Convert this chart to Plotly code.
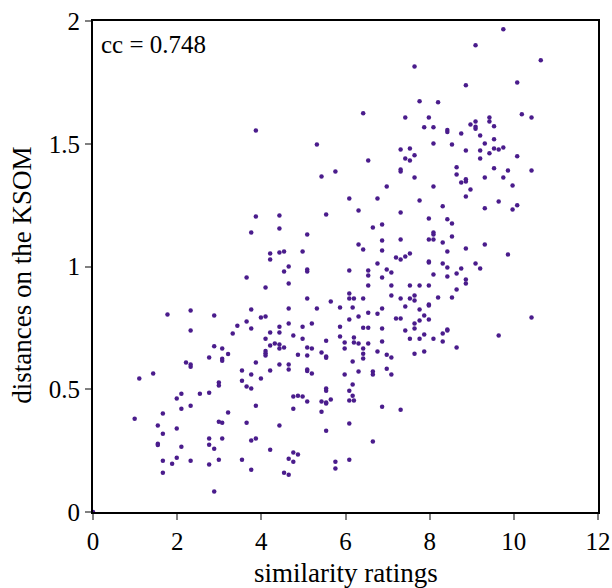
import plotly.graph_objects as go

# similarity ratings vs distances on the KSOM
ratings = [
    3.87, 5.32, 5.76, 5.43,
    9.09, 7.64, 8.86, 7.76, 8.20, 6.42, 7.42, 7.98, 9.09, 8.97, 9.09, 9.09, 7.87, 8.09, 8.42, 8.42,
    8.75, 9.20, 8.09, 8.53, 7.31, 7.53, 8.86, 9.20, 7.64, 6.54, 7.42, 7.53, 9.20, 8.64, 7.31, 7.31,
    8.64, 7.64, 8.86, 8.86, 8.75,
    9.75, 10.64, 10.08, 10.19, 10.42, 9.42, 9.42, 9.53, 9.53, 9.31, 9.53, 9.64, 9.75, 9.42, 10.08,
    9.53, 9.86, 10.42, 9.31, 9.75, 9.97,
    9.64, 9.31, 10.08, 9.97, 9.31, 9.86, 10.42, 9.64,
    6.09, 3.87, 4.43, 5.54, 4.43, 3.76, 5.09, 4.21, 4.43, 4.54, 4.98, 4.21, 4.65, 5.09, 5.09, 4.54,
    6.09, 3.65, 4.65, 4.10, 6.09, 6.09, 5.09, 5.65, 3.76, 4.65, 5.32, 5.87, 6.17, 3.99, 4.10, 3.43,
    3.65, 3.76, 4.43, 4.65, 4.98, 5.20, 5.87, 6.09, 3.32, 4.21, 4.43, 4.76, 4.10, 4.98, 5.54, 5.87,
    5.98, 4.32, 4.21, 4.43, 4.54, 4.43, 5.09, 5.20, 5.98,
    1.77, 2.32, 2.88, 2.32, 2.88, 3.07,
    2.76, 3.07, 3.07, 2.21, 2.32, 2.32, 1.43, 1.10, 2.99, 2.99, 2.10, 2.54, 2.76, 1.99, 2.10, 2.32,
    1.66, 0.99, 1.54, 1.99, 2.99, 3.07, 1.66, 1.54, 1.54, 2.76, 2.10, 2.76, 2.88, 3.07, 1.66, 1.88,
    1.99, 2.32, 2.76, 2.99, 1.66, 2.88, 0.0,
    3.21, 4.10, 4.10, 4.10, 4.87, 5.09, 5.43, 5.54, 5.54, 3.87, 6.17, 3.54, 3.76, 4.21, 4.43, 4.65,
    4.65, 5.09, 5.09, 5.20, 5.98, 3.99, 3.54, 3.65, 3.76, 6.17, 5.54, 5.54, 6.09, 6.17, 4.76, 4.87,
    4.98, 5.09, 5.43, 5.54, 5.54, 5.65, 6.09, 6.20, 3.21, 3.87, 4.76, 5.43, 3.65, 4.43, 6.09, 5.54,
    3.76, 3.87, 4.21, 4.76, 4.87, 4.65, 4.76, 3.54, 5.76, 6.09, 3.76, 5.76, 4.54, 4.65,
    6.42, 6.42, 6.76, 6.98, 7.09, 7.64, 7.87, 6.31, 6.65, 6.65, 6.98, 7.09, 6.87, 7.31, 6.65,
    6.98, 8.09, 8.97, 6.76, 8.86, 7.76, 8.31, 6.31, 7.31, 7.98, 8.42, 8.53, 6.65, 6.87, 8.09, 8.09,
    7.31, 7.98, 8.09, 8.53, 6.87, 6.31, 8.31, 6.42, 6.87, 8.42, 8.86, 7.53, 7.42, 7.20, 7.31, 6.76,
    7.98, 7.98, 8.31, 8.42, 8.75, 9.09, 9.20, 6.54, 6.98, 7.09, 6.54, 6.87, 8.09, 8.42, 8.64, 8.86,
    8.86, 6.54, 7.09, 7.53, 7.76, 7.98, 8.64, 7.09, 6.20, 6.42, 7.31, 7.53, 7.64, 7.64, 8.20, 8.53,
    7.98, 7.98, 7.42, 6.87, 7.76, 6.54, 6.76, 7.87, 6.31, 7.20, 7.31, 7.98, 7.76, 7.64, 6.42, 6.54,
    6.87, 7.42, 7.64, 8.42, 8.42, 8.31, 7.87, 6.20, 6.20, 6.31, 6.54, 6.87, 7.53, 7.76, 8.09, 8.31,
    6.42, 8.64,
]
distances = [
    1.554, 1.497, 1.387, 1.367,
    1.901, 1.815, 1.738, 1.673, 1.669, 1.624, 1.607, 1.607, 1.591, 1.578, 1.569, 1.561, 1.567, 1.567, 1.556, 1.548,
    1.542, 1.534, 1.501, 1.497, 1.477, 1.481, 1.473, 1.473, 1.453, 1.432, 1.440, 1.432, 1.440, 1.404, 1.395, 1.387,
    1.375, 1.363, 1.355, 1.346, 1.342,
    1.966, 1.840, 1.750, 1.620, 1.607, 1.607, 1.591, 1.571, 1.518, 1.501, 1.481, 1.477, 1.485, 1.461, 1.449,
    1.400, 1.391, 1.391, 1.363, 1.363, 1.330,
    1.265, 1.237, 1.249, 1.232, 1.090, 1.049, 0.792, 0.719,
    1.277, 1.204, 1.208, 1.212, 1.155, 1.139, 1.130, 1.053, 1.057, 1.061, 1.061, 1.029, 1.000, 0.988, 0.980, 0.980,
    0.984, 0.955, 0.931, 0.914, 0.890, 0.870, 0.870, 0.857, 0.825, 0.829, 0.829, 0.833, 0.833, 0.792, 0.796, 0.759,
    0.776, 0.747, 0.755, 0.768, 0.755, 0.768, 0.755, 0.784, 0.727, 0.731, 0.731, 0.719, 0.706, 0.706, 0.698, 0.715,
    0.690, 0.686, 0.678, 0.682, 0.670, 0.666, 0.670, 0.666, 0.666,
    0.804, 0.821, 0.800, 0.739, 0.675, 0.666,
    0.629, 0.624, 0.616, 0.609, 0.601, 0.592, 0.564, 0.544, 0.527, 0.515, 0.482, 0.482, 0.486, 0.462, 0.421, 0.433,
    0.401, 0.380, 0.352, 0.340, 0.368, 0.364, 0.319, 0.278, 0.273, 0.299, 0.266, 0.274, 0.258, 0.299, 0.209, 0.197,
    0.221, 0.209, 0.193, 0.213, 0.160, 0.083, 0.0,
    0.644, 0.656, 0.647, 0.637, 0.641, 0.637, 0.650, 0.633, 0.628, 0.609, 0.613, 0.576, 0.560, 0.576, 0.601, 0.601,
    0.580, 0.580, 0.574, 0.564, 0.560, 0.544, 0.535, 0.511, 0.503, 0.519, 0.503, 0.494, 0.494, 0.474, 0.470, 0.474,
    0.470, 0.450, 0.450, 0.446, 0.442, 0.458, 0.454, 0.454, 0.405, 0.433, 0.421, 0.408, 0.364, 0.352, 0.360, 0.331,
    0.291, 0.299, 0.254, 0.242, 0.234, 0.217, 0.205, 0.213, 0.205, 0.213, 0.172, 0.177, 0.160, 0.152,
    0.645, 0.625, 0.654, 0.641, 0.629, 0.645, 0.654, 0.572, 0.572, 0.560, 0.584, 0.560, 0.429, 0.417, 0.287,
    1.326, 1.326, 1.314, 1.277, 1.285, 1.269, 1.245, 1.228, 1.220, 1.196, 1.192, 1.175, 1.159, 1.171, 1.139, 1.130,
    1.110, 1.110, 1.110, 1.122, 1.106, 1.090, 1.098, 1.069, 1.065, 1.061, 1.073, 1.053, 1.041, 1.037, 1.029, 1.012,
    1.020, 1.016, 1.012, 0.996, 0.992, 1.012, 0.992, 0.984, 0.988, 0.976, 0.963, 0.955, 0.967, 0.959, 0.971, 0.947,
    0.931, 0.923, 0.923, 0.923, 0.923, 0.923, 0.906, 0.882, 0.870, 0.870, 0.870, 0.870, 0.882, 0.861, 0.874, 0.874,
    0.845, 0.841, 0.837, 0.829, 0.825, 0.812, 0.808, 0.800, 0.796, 0.788, 0.788, 0.784, 0.780, 0.768, 0.751, 0.751,
    0.747, 0.739, 0.747, 0.743, 0.739, 0.727, 0.723, 0.711, 0.690, 0.686, 0.686, 0.694, 0.706, 0.706, 0.706, 0.694,
    0.666, 0.670,
]
x_ticks = [0, 2, 4, 6, 8, 10, 12]
y_ticks = [0, 0.5, 1, 1.5, 2]
y_ticktext = ["0", "0.5", "1", "1.5", "2"]
x_title = "similarity ratings"
y_title = "distances on the KSOM"
cc_label = "cc = 0.748"

FONT = "Liberation Serif"

fig = go.Figure()
fig.add_trace(go.Scatter(
    x=ratings, y=distances, mode="markers",
    marker=dict(color="#4a1c8c", size=4.5, line=dict(width=0)),
    cliponaxis=False, showlegend=False,
))

axis_common = dict(
    showline=True, linecolor="black", linewidth=2, mirror=True,
    ticks="outside", ticklen=6, tickwidth=1.5, tickcolor="#808080",
    showgrid=False, zeroline=False, automargin=False,
    tickfont=dict(family=FONT, size=25, color="black"),
)
fig.update_xaxes(range=[0, 12], tickvals=x_ticks, **axis_common)
fig.update_yaxes(range=[0, 2], tickvals=y_ticks, ticktext=y_ticktext, **axis_common)

# axis titles as annotations so the plot area keeps its fixed margins
fig.add_annotation(text=x_title, xref="paper", yref="paper", x=0.5, y=-0.125,
                   xanchor="center", yanchor="middle", showarrow=False,
                   font=dict(family=FONT, size=27, color="black"))
fig.add_annotation(text=y_title, xref="paper", yref="paper", x=-0.141, y=0.483,
                   xanchor="center", yanchor="middle", textangle=-90, showarrow=False,
                   font=dict(family=FONT, size=27, color="black"))
fig.add_annotation(text=cc_label, xref="paper", yref="paper", x=0.012, y=0.953,
                   xanchor="left", yanchor="middle", showarrow=False,
                   font=dict(family=FONT, size=25, color="black"))

fig.update_layout(
    width=612, height=588,
    margin=dict(l=93, r=14, t=21, b=76),
    plot_bgcolor="white", paper_bgcolor="white",
)

# drop the page's default body margin so the figure sits at the window origin
fig.write_html("out.html", config={"displayModeBar": False},
               post_script="document.body.style.margin='0';")
